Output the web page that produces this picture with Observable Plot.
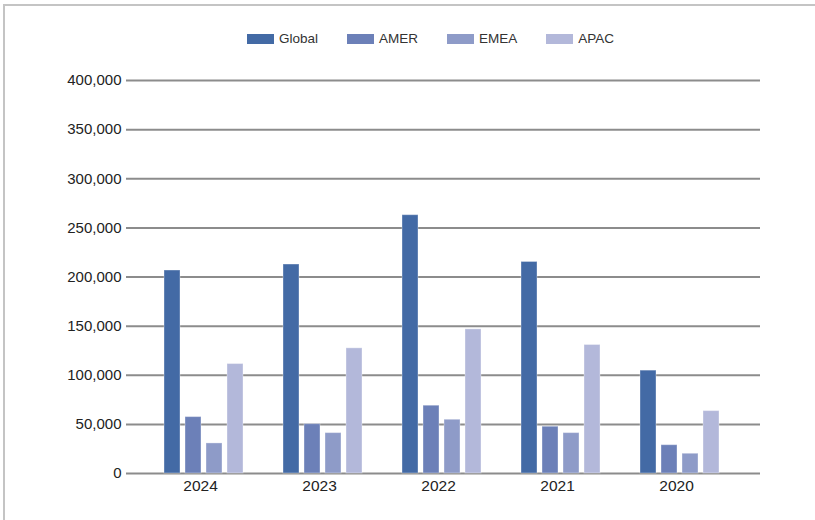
<!DOCTYPE html>
<html><head><meta charset="utf-8">
<script src="https://cdn.jsdelivr.net/npm/d3@7"></script>
<script src="https://cdn.jsdelivr.net/npm/@observablehq/plot@0.6"></script>
<style>
body{margin:0;background:#fff;font-family:"Liberation Sans",Arial,sans-serif;}
#frame{position:absolute;left:3px;top:4px;width:830px;height:540px;border-top:2px solid #c4c4c4;border-left:2px solid #c4c4c4;}
#legend{position:absolute;left:247px;top:31px;display:flex;gap:29px;font-size:13.5px;color:#333;line-height:16px;}
.item{display:flex;align-items:center;gap:5px;}
.sw{width:27px;height:10px;}
.layer{position:absolute;left:0;top:60px;}
</style></head><body>
<div id="frame"></div><div id="legend"></div><div id="grid" class="layer"></div><div id="bars" class="layer"></div>
<script>
const years = ["2024", "2023", "2022", "2021", "2020"];
const series = ["Global", "AMER", "EMEA", "APAC"];
const colors = ["#436aa5", "#6c80b8", "#8e9bc8", "#b3b8da"];
const globalValues = [206600, 212700, 262900, 215300, 104700];
const amerValues = [57400, 50200, 69000, 47600, 28800];
const emeaValues = [30600, 41100, 54700, 41100, 20100];
const apacValues = [111400, 127400, 146700, 130800, 63500];
const yTicks = [0, 50000, 100000, 150000, 200000, 250000, 300000, 350000, 400000];

const valuesBySeries = [globalValues, amerValues, emeaValues, apacValues];
const data = [];
years.forEach((yr, i) => series.forEach((s, j) => data.push({year: yr, series: s, value: valuesBySeries[j][i]})));

// legend
const legend = document.getElementById("legend");
series.forEach((s, j) => {
  const it = document.createElement("div"); it.className = "item";
  const sw = document.createElement("div"); sw.className = "sw"; sw.style.background = colors[j];
  const tx = document.createElement("span"); tx.textContent = s;
  it.appendChild(sw); it.appendChild(tx); legend.appendChild(it);
});

const fmt = d3.format(",");
const common = {
  width: 815, height: 460,
  marginLeft: 126, marginRight: 55, marginTop: 20, marginBottom: 47,
  style: {fontFamily: '"Liberation Sans", Arial, sans-serif', fontSize: "15px", color: "#222", background: "transparent"}
};

// background layer: gridlines and y axis
const gridPlot = Plot.plot({
  ...common,
  y: {domain: [0, 400000]},
  marks: [
    Plot.ruleY(yTicks, {stroke: "#8c8c8c", strokeWidth: 2}),
    Plot.axisY(yTicks, {tickFormat: fmt, tickSize: 0, tickPadding: 5, label: null, fill: "#222"})
  ]
});
document.getElementById("grid").appendChild(gridPlot);

// foreground layer: grouped bars
const barPlot = Plot.plot({
  ...common,
  fx: {domain: years, paddingInner: 0.292, paddingOuter: 0.3055, align: 0.48, label: null, axis: null},
  x: {domain: series, paddingInner: 0.26, paddingOuter: 0.13, axis: null},
  y: {domain: [0, 400000], axis: null},
  color: {domain: series, range: colors},
  marks: [
    Plot.barY(data, {fx: "year", x: "series", y: "value", fill: "series", stroke: "#ffffff", strokeOpacity: 0.35, strokeWidth: 1}),
    Plot.axisFx({anchor: "bottom", tickSize: 0, tickPadding: 6, dx: -3, fontSize: 15.5, label: null, fill: "#222"})
  ]
});
document.getElementById("bars").appendChild(barPlot);
</script>
</body></html>
